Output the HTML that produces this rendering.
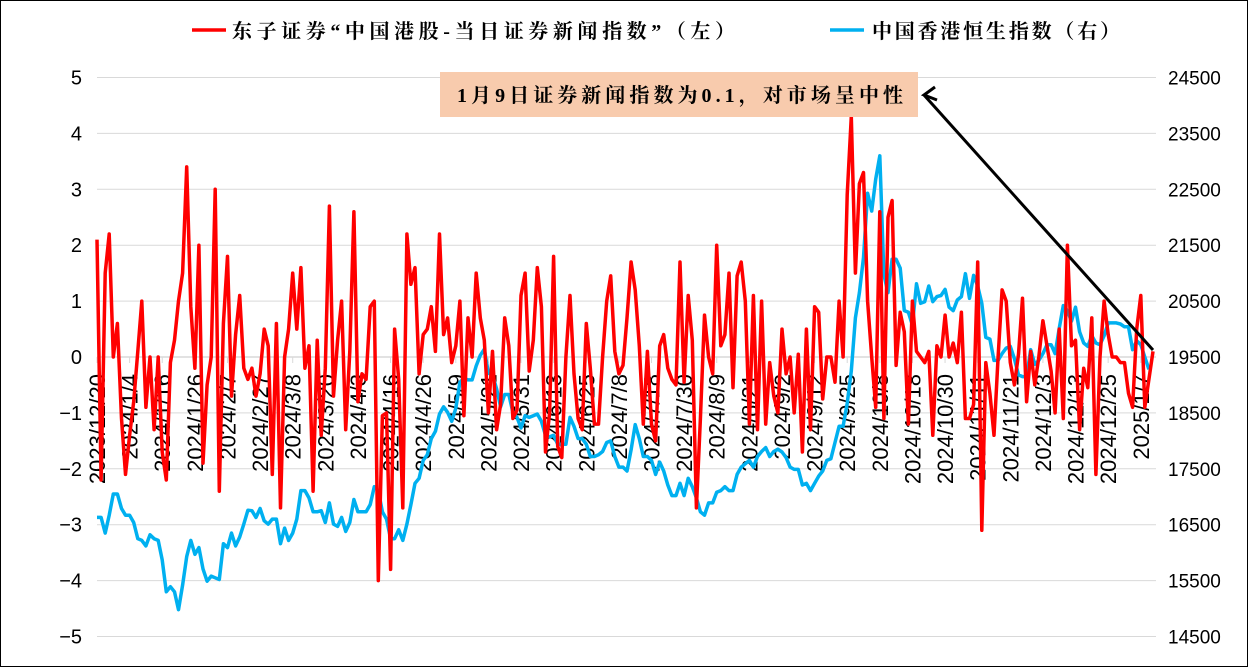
<!DOCTYPE html>
<html><head><meta charset="utf-8"><style>
html,body{margin:0;padding:0;background:#fff}
svg{display:block}
</style></head><body>
<svg id="chart" width="1248" height="667" xmlns="http://www.w3.org/2000/svg" font-family="'Liberation Sans','Noto Sans CJK SC',sans-serif">
<rect x="0.5" y="0.5" width="1247" height="666" fill="#fff" stroke="#000" stroke-width="1"/>
<g id="grid"></g>
<g id="axes"></g>
<g id="series"></g>
<g>
<line x1="192" y1="30" x2="226" y2="30" stroke="#ff0000" stroke-width="3.5"/>
<text x="232" y="38" font-size="20" font-weight="bold" font-family="'Liberation Serif','Noto Serif CJK SC',serif" textLength="503">东子证券“中国港股-当日证券新闻指数”（左）</text>
<line x1="830" y1="30" x2="864" y2="30" stroke="#00b0f0" stroke-width="3.5"/>
<text x="872" y="38" font-size="20" font-weight="bold" font-family="'Liberation Serif','Noto Serif CJK SC',serif" textLength="248">中国香港恒生指数（右）</text>
</g>
<g>
<rect x="440" y="72" width="478" height="45" fill="#f8cbad"/>
<text x="457" y="102" font-size="20" font-weight="bold" font-family="'Liberation Serif','Noto Serif CJK SC',serif" textLength="446">1月9日证券新闻指数为0.1，对市场呈中性</text>
<line x1="1153" y1="350" x2="924" y2="95" stroke="#000" stroke-width="3"/>
<polyline points="935,87 924,95 937,100" fill="none" stroke="#000" stroke-width="3"/>
</g>
</svg>
<script>
const newsIndex=[2.1,-2.2,1.5,2.2,0,0.6,-1.1,-2.1,-1.4,-0.8,0.1,1.0,-0.9,0,-1.3,0,-1.7,-2.2,-0.1,0.3,1.0,1.5,3.4,0.9,-0.2,2.0,-1.9,-0.5,0,3.0,-2.4,0.6,1.8,-0.7,0.4,1.1,-0.2,-0.4,-0.2,-0.7,-0.3,0.5,0.2,-2.1,0.6,-2.7,0,0.5,1.5,0.5,1.6,-0.2,0.2,-2.4,0.3,-1.4,-0.2,2.7,-0.7,0.3,1.0,-1.3,0.1,2.6,-0.8,-0.3,-0.4,0.9,1.0,-4.0,-1.05,-1.0,-3.8,0.5,-0.4,-2.7,2.2,1.3,1.6,-0.3,0.4,0.5,0.9,0.1,2.2,
0.4,0.7,-0.1,0.2,1.0,-1.05,0.7,0,1.5,0.7,0.3,-1.0,0.1,-1.3,-0.85,0.7,0.2,-1.1,-0.95,1.1,1.5,-0.25,0.3,1.6,0.9,-1.7,-1.0,1.8,-1.6,-1.8,0,1.1,-0.3,-1.1,-1.3,0.6,-0.2,-1.2,-1.2,0,1.0,1.45,0.1,-0.3,-0.15,0.7,1.7,1.2,0.2,-1.2,0.1,-1.2,-1.5,0.2,0.4,-0.2,-0.4,-0.5,1.7,-0.45,1.1,0.3,-2.7,-1.1,0.75,0,-0.3,2.0,0.2,0.4,1.5,-0.55,1.45,1.7,1.0,-1.2,1.1,-1.3,1.0,-1.2,-0.1,-0.7,
-1.0,0.5,-0.3,
0,-1.0,0.05,-1.7,0.5,-1.3,0.9,0.8,-0.75,0,0,-0.45,1.0,0,2.9,4.3,1.5,3.1,3.3,1.0,0,-0.9,2.6,-1.1,2.5,2.8,-0.15,0.8,0.45,-1.2,1.0,0.1,0,-0.1,0.1,-1.4,0.2,0,0.75,0,0.25,-0.1,0.8,-1.1,-1.1,-0.85,1.7,-3.1,-0.1,-0.65,-1.4,0,1.2,1.0,-0.1,-0.5,0.05,1.05,-0.8,0.1,-0.5,0,0.65,0.2,-0.25,-1.0,0.5,-1.1,2.0,0.2,0.3,-1.3,-0.2,-0.55,0.7,-2.1,0,1.0,0.4,0,0,-0.1,-0.1,-0.65,-0.9,0.5,1.1,-0.9,-0.4,0.1];
const hsiIndex=[16630,16630,16350,16670,17050,17050,16790,16670,16670,16540,16250,16220,16120,16320,16250,16220,15870,15300,15390,15300,14980,15420,15930,16220,15970,16090,15710,15490,15580,15550,15520,16160,16090,16350,16120,16280,16510,16760,16750,16630,16790,16570,16510,16600,16600,16160,16440,16220,16350,16600,17110,17110,16980,16730,16730,16750,16540,16890,16510,16470,16630,16380,16540,16950,16730,16730,16730,16860,17180,17110,16730,16600,16250,16250,16410,16220,16510,16860,17240,17330,17650,17750,18040,18170,18480,
18610,18510,18350,18580,19050,19120,19090,19090,19340,19530,19640,19210,19180,18930,18610,18830,18830,18510,18420,18230,18450,18420,18450,18480,18350,18100,18070,18100,17940,17940,17940,18420,18260,18040,18040,17940,17720,17720,17750,17810,17970,18000,17720,17530,17530,17460,17840,18290,18040,17720,17720,17650,17400,17620,17460,17210,17020,17020,17240,17020,17330,17180,16980,16730,16670,16890,16890,17080,17110,17180,17110,17110,17400,17530,17590,17650,17530,17720,17810,17880,17720,17810,
17850,17800,17700,
17530,17490,17490,17210,17240,17110,17240,17370,17460,17650,17680,17970,18260,18260,18670,19250,20200,20650,21280,22430,22110,22680,23100,20970,20650,21250,21250,21090,20330,20300,20070,20810,20460,20490,20770,20490,20580,20600,20710,20390,20330,20520,20580,20990,20550,20960,20770,20460,19850,19820,19440,19440,19560,19660,19690,19470,19180,19150,19150,19630,19370,19440,19560,19720,19720,19560,20010,20420,20330,20140,20390,19950,19750,19690,19880,19750,19720,19880,20110,20110,20110,20090,20040,20040,19630,19790,19720,19500,19280];
const dateLabels=["2023/12/20","2024/1/4","2024/1/16","2024/1/26","2024/2/7","2024/2/27","2024/3/8","2024/3/20","2024/4/3","2024/4/16","2024/4/26","2024/5/9","2024/5/21","2024/5/31","2024/6/13","2024/6/25","2024/7/8","2024/7/18","2024/7/30","2024/8/9","2024/8/21","2024/9/2","2024/9/12","2024/9/25","2024/10/8","2024/10/18","2024/10/30","2024/11/11","2024/11/21","2024/12/3","2024/12/13","2024/12/25","2025/1/7"];
const leftTicks=[5,4,3,2,1,0,-1,-2,-3,-4,-5];
const rightTicks=[24500,23500,22500,21500,20500,19500,18500,17500,16500,15500,14500];

const NS="http://www.w3.org/2000/svg";
const X0=97,X1=1153,N=newsIndex.length;
const xAt=i=>X0+i*(X1-X0)/(N-1);
const yL=v=>357-v*55.9;
const yR=v=>357-(v-19500)/1000*55.9;
function mk(tag,attrs,parent){const e=document.createElementNS(NS,tag);for(const k in attrs)e.setAttribute(k,attrs[k]);parent.appendChild(e);return e;}
const grid=document.getElementById('grid'),axes=document.getElementById('axes'),series=document.getElementById('series');
leftTicks.forEach((t,k)=>{
  const y=yL(t);
  if(t!==0){const g=mk('line',{x1:97,x2:1156,y1:y,y2:y,stroke:'#d9d9d9','stroke-width':1},grid);
  
  }
  const tx=mk('text',{x:82,y:y+7,'font-size':20,'text-anchor':'end',fill:'#000'},axes);
  tx.textContent=t<0?'−'+Math.abs(t):String(t);
  
  
});
rightTicks.forEach(t=>{
  const tx=mk('text',{x:1168,y:yR(t)+7,'font-size':19,fill:'#000'},axes);
  tx.textContent=String(t);
  
  
});
const ax=mk('line',{x1:97,x2:1156,y1:yL(0),y2:yL(0),stroke:'#d9d9d9','stroke-width':1.5},axes);


dateLabels.forEach((d,k)=>{
  const x=xAt(k*8);
  const tk=mk('line',{x1:x,x2:x,y1:yL(0),y2:yL(0)+6,stroke:'#d9d9d9'},axes);
  
  
  const tx=mk('text',{x:0,y:0,'font-size':22,'text-anchor':'end',fill:'#000',transform:`translate(${x+8},374) rotate(-90)`},axes);
  tx.textContent=d;
  
  
});
const hp=mk('polyline',{points:hsiIndex.map((v,i)=>xAt(i).toFixed(1)+','+yR(v).toFixed(1)).join(' '),fill:'none',stroke:'#00b0f0','stroke-width':3.5,'stroke-linejoin':'round'},series);


const rp=mk('polyline',{points:newsIndex.map((v,i)=>xAt(i).toFixed(1)+','+yL(v).toFixed(1)).join(' '),fill:'none',stroke:'#ff0000','stroke-width':3.5,'stroke-linejoin':'round'},series);


</script>
</body></html>
